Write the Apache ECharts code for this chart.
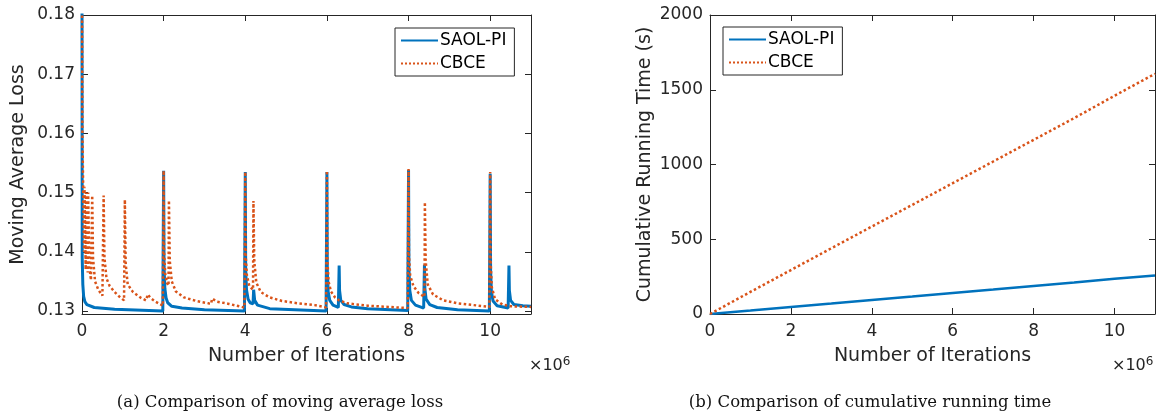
<!DOCTYPE html>
<html>
<head>
<meta charset="utf-8">
<script src="https://cdn.jsdelivr.net/npm/echarts@6/dist/echarts.min.js"></script>
<style>
  html, body { margin: 0; padding: 0; background: #fff; }
  #chart { width: 1156px; height: 417px; }
</style>
</head>
<body>
<div id="chart"></div>
<script>
// x values are in millions of iterations
var legendNames = ['SAOL-PI', 'CBCE'];

// (a) moving average loss, [iteration, loss]
var saolLoss = [
  [0, 0.185], [0.005, 0.139], [0.02, 0.1345], [0.04, 0.1325], [0.07, 0.1316], [0.12, 0.1311], [0.3, 0.1306], [0.8, 0.1303], [1.98, 0.1300],
  [2.0, 0.1537], [2.01, 0.1375], [2.03, 0.1338], [2.06, 0.1322], [2.1, 0.1314], [2.2, 0.1308], [2.45, 0.1305], [3.0, 0.1302], [3.98, 0.1300],
  [4.0, 0.1535], [4.01, 0.1372], [4.03, 0.1336], [4.07, 0.1320], [4.12, 0.1314], [4.19, 0.1312], [4.205, 0.1336], [4.23, 0.1318], [4.3, 0.1310], [4.6, 0.1304], [5.98, 0.1300],
  [6.0, 0.1535], [6.01, 0.1370], [6.03, 0.1333], [6.07, 0.1318], [6.15, 0.1310], [6.28, 0.1306], [6.30, 0.1377], [6.31, 0.1335], [6.34, 0.1318], [6.42, 0.1311], [6.6, 0.1307], [7.0, 0.1304], [7.98, 0.1301],
  [8.0, 0.1538], [8.01, 0.1372], [8.03, 0.1335], [8.07, 0.1318], [8.17, 0.1310], [8.37, 0.1305], [8.39, 0.1378], [8.40, 0.1338], [8.43, 0.1320], [8.52, 0.1311], [8.7, 0.1306], [9.2, 0.1302], [9.98, 0.1300],
  [10.0, 0.1532], [10.01, 0.1370], [10.03, 0.1333], [10.07, 0.1317], [10.17, 0.1309], [10.44, 0.1305], [10.46, 0.1377], [10.47, 0.1335], [10.5, 0.1318], [10.58, 0.1311], [10.8, 0.1309], [11.0, 0.1308]
];
var cbceLoss = [
  [0, 0.185], [0.01, 0.160], [0.03, 0.150], [0.05, 0.140], [0.06, 0.151], [0.09, 0.137], [0.10, 0.150],
  [0.14, 0.1365], [0.15, 0.150], [0.18, 0.1375], [0.22, 0.1352], [0.25, 0.1495], [0.27, 0.1390], [0.32, 0.1350], [0.40, 0.1336], [0.50, 0.1326],
  [0.53, 0.1495], [0.55, 0.1390], [0.6, 0.1355], [0.68, 0.1342], [0.8, 0.1332], [0.92, 0.1324], [1.03, 0.1318], [1.05, 0.1488], [1.07, 0.1380], [1.12, 0.1345],
  [1.25, 0.1332], [1.45, 0.1322], [1.57, 0.1318], [1.61, 0.1328], [1.68, 0.1322], [1.8, 0.1316], [1.98, 0.1309],
  [2.0, 0.1537], [2.01, 0.1400], [2.04, 0.1362], [2.08, 0.1348], [2.12, 0.1343], [2.13, 0.1487], [2.15, 0.1385], [2.2, 0.1350], [2.3, 0.1333], [2.5, 0.1323], [2.8, 0.1317],
  [3.1, 0.1313], [3.16, 0.1312], [3.19, 0.1321], [3.3, 0.1316], [3.6, 0.1312], [3.98, 0.1306],
  [4.0, 0.1535], [4.01, 0.1395], [4.04, 0.1360], [4.1, 0.1342], [4.19, 0.1336], [4.20, 0.1486], [4.22, 0.1385], [4.27, 0.1348], [4.38, 0.1332], [4.6, 0.1323], [4.9, 0.1317],
  [5.3, 0.1313], [5.7, 0.1310], [5.98, 0.1306],
  [6.0, 0.1537], [6.01, 0.1390], [6.04, 0.1350], [6.1, 0.1333], [6.2, 0.1323], [6.3, 0.1318], [6.5, 0.1313], [7.0, 0.1309], [7.5, 0.1307], [7.98, 0.1305],
  [8.0, 0.1540], [8.01, 0.1395], [8.04, 0.1360], [8.12, 0.1342], [8.25, 0.1330], [8.39, 0.1324], [8.40, 0.1484], [8.42, 0.1385], [8.47, 0.1345], [8.6, 0.1328],
  [8.85, 0.1318], [9.2, 0.1313], [9.6, 0.1310], [9.98, 0.1307],
  [10.0, 0.1535], [10.01, 0.1385], [10.04, 0.1340], [10.12, 0.1320], [10.3, 0.1311], [10.5, 0.1308], [11.0, 0.1307]
];

// (b) cumulative running time (s)
var timeIter = [0, 1, 2, 3, 4, 5, 6, 7, 8, 9, 10, 11];
var saolTime = [0, 23, 47, 70, 94, 117, 141, 164, 188, 211, 235, 258];
var cbceTime = [0, 148, 294, 440, 585, 730, 875, 1020, 1165, 1310, 1460, 1607];

// tick labels
var iterTicks = [0, 2, 4, 6, 8, 10];
var lossTicks = [0.13, 0.14, 0.15, 0.16, 0.17, 0.18];
var timeTicks = [0, 500, 1000, 1500, 2000];

var blue = '#0072BD';
var orange = '#D95319';
var ink = '#262626';
var font = 'DejaVu Sans';

var myChart = echarts.init(document.getElementById('chart'));

function xAx(gi, pos) {
  var main = pos == 'bottom';
  return {
    type: 'value', gridIndex: gi, position: pos, min: 0, max: 11,
    name: main ? 'Number of Iterations' : '', nameLocation: 'middle', nameGap: 33,
    nameTextStyle: { color: ink, fontFamily: font, fontSize: 19 },
    axisLine: { show: true, onZero: false, lineStyle: { color: ink, width: 1 } },
    axisTick: { show: true, inside: true, length: 6, customValues: iterTicks, lineStyle: { color: ink } },
    axisLabel: { show: main, customValues: iterTicks, margin: 9, color: ink, fontFamily: font, fontSize: 17 },
    splitLine: { show: false }
  };
}
function yAx(gi, pos, min, max, ticks, name, gap, fmt) {
  var main = pos == 'left';
  return {
    type: 'value', gridIndex: gi, position: pos, min: min, max: max,
    name: main ? name : '', nameLocation: 'middle', nameGap: gap,
    nameTextStyle: { color: ink, fontFamily: font, fontSize: 19 },
    axisLine: { show: true, onZero: false, lineStyle: { color: ink, width: 1 } },
    axisTick: { show: true, inside: true, length: 6, customValues: ticks, lineStyle: { color: ink } },
    axisLabel: { show: main, customValues: ticks, margin: 7, color: ink, fontFamily: font, fontSize: 17, formatter: fmt },
    splitLine: { show: false }
  };
}
function legendBox(names, left, top) {
  return {
    data: names, orient: 'vertical', left: left, top: top, itemWidth: 37, itemHeight: 14, itemGap: 6,
    padding: [4, 8, 4, 5], backgroundColor: '#fff', borderColor: ink, borderWidth: 1, selectedMode: false,
    itemStyle: { opacity: 0 },
    formatter: function (n) { return n.trim(); },
    textStyle: { color: '#000', fontFamily: font, fontSize: 17, padding: [0, 0, 0, -3] }
  };
}

var option = {
  animation: false,
  backgroundColor: '#fff',
  grid: [
    { left: 82, right: 625, top: 15, bottom: 103 },
    { left: 710, right: 1, top: 15, bottom: 103 }
  ],
  xAxis: [xAx(0, 'bottom'), xAx(0, 'top'), xAx(1, 'bottom'), xAx(1, 'top')],
  yAxis: [
    yAx(0, 'left', 0.1295, 0.18, lossTicks, 'Moving Average Loss', 54, function (v) { return v.toFixed(2); }),
    yAx(0, 'right', 0.1295, 0.18, lossTicks, '', 0),
    yAx(1, 'left', 0, 2000, timeTicks, 'Cumulative Running Time (s)', 55, function (v) { return String(v); }),
    yAx(1, 'right', 0, 2000, timeTicks, '', 0)
  ],
  legend: [
    legendBox(legendNames, 395, 28),
    legendBox(legendNames.map(function (n) { return n + ' '; }), 723, 27)
  ],
  series: [
    { name: 'SAOL-PI', type: 'line', xAxisIndex: 0, yAxisIndex: 0, data: saolLoss, symbol: 'none',
      lineStyle: { color: blue, width: 3 }, itemStyle: { color: blue } },
    { name: 'CBCE', type: 'line', xAxisIndex: 0, yAxisIndex: 0, data: cbceLoss, symbol: 'none',
      lineStyle: { color: orange, width: 2.5, type: 'dotted' }, itemStyle: { color: orange } },
    { name: 'SAOL-PI ', type: 'line', xAxisIndex: 2, yAxisIndex: 2, symbol: 'none',
      data: timeIter.map(function (x, i) { return [x, saolTime[i]]; }),
      lineStyle: { color: blue, width: 2.5 }, itemStyle: { color: blue } },
    { name: 'CBCE ', type: 'line', xAxisIndex: 2, yAxisIndex: 2, symbol: 'none',
      data: timeIter.map(function (x, i) { return [x, cbceTime[i]]; }),
      lineStyle: { color: orange, width: 2.5, type: 'dotted' }, itemStyle: { color: orange } }
  ],
  graphic: [
    { type: 'text', left: 529, top: 356, style: { text: '×10{s|6}', fill: ink, font: '16px "DejaVu Sans"',
      rich: { s: { fontSize: 12, fontFamily: font, fill: ink, verticalAlign: 'top', padding: [0, 0, 8, 0] } } } },
    { type: 'text', left: 1112, top: 356, style: { text: '×10{s|6}', fill: ink, font: '16px "DejaVu Sans"',
      rich: { s: { fontSize: 12, fontFamily: font, fill: ink, verticalAlign: 'top', padding: [0, 0, 8, 0] } } } },
    { type: 'text', x: 280, y: 403, style: { text: '(a) Comparison of moving average loss', fill: '#111',
      font: '16.5px "DejaVu Serif"', align: 'center', verticalAlign: 'middle' } },
    { type: 'text', x: 870, y: 403, style: { text: '(b) Comparison of cumulative running time', fill: '#111',
      font: '16.5px "DejaVu Serif"', align: 'center', verticalAlign: 'middle' } }
  ]
};
myChart.setOption(option);
</script>
</body>
</html>
